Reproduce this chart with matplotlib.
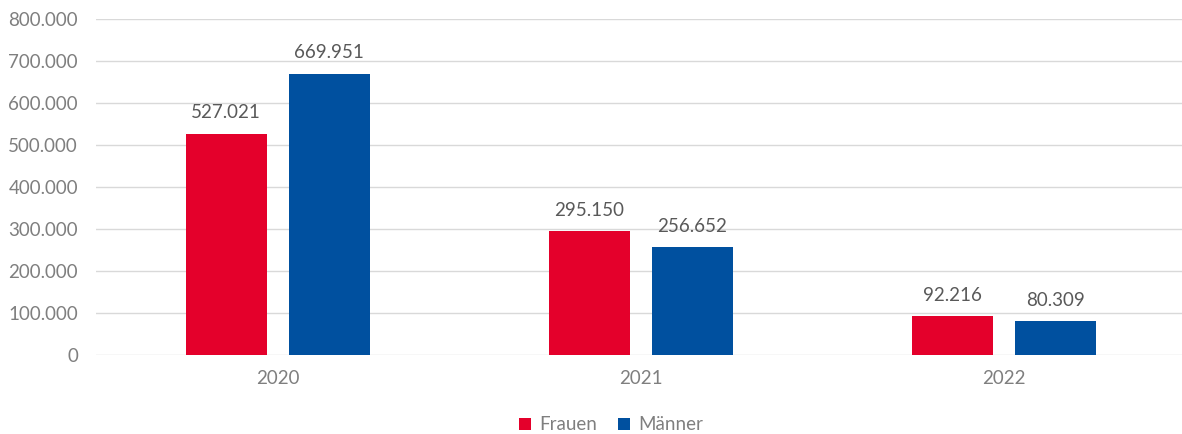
import matplotlib.pyplot as plt
from matplotlib.ticker import FuncFormatter
import numpy as np

years = ['2020', '2021', '2022']
frauen = [527021, 295150, 92216]
maenner = [669951, 256652, 80309]
series_names = ['Frauen', 'Männer']

plt.rcParams['font.family'] = ['Lato', 'DejaVu Sans']

fig = plt.figure(figsize=(11.82, 4.34), dpi=100)
ax = fig.add_axes([96/1182, 1-355/434, 1-96/1182, (355-19)/434])

x = np.arange(len(years))
w = 0.223
off = 0.142
red = '#E4002B'
blue = '#00509F'

b1 = ax.bar(x - off, frauen, w, color=red, label=series_names[0], zorder=3)
b2 = ax.bar(x + off, maenner, w, color=blue, label=series_names[1], zorder=3)

def de_fmt(v):
    return f'{int(round(v)):,}'.replace(',', '.')

# Datenbeschriftung ueber den Balken
for bars, vals in ((b1, frauen), (b2, maenner)):
    for r, v in zip(bars, vals):
        ax.annotate(de_fmt(v), (r.get_x() + r.get_width()/2, v), xytext=(0, 9),
                    textcoords='offset points', ha='center', va='bottom',
                    fontsize=13.5, color='#595959')

ax.set_ylim(0, 800000)
ax.set_xlim(-0.5, 2.49)
ax.set_yticks(np.arange(0, 800001, 100000))
ax.yaxis.set_major_formatter(FuncFormatter(lambda v, p: de_fmt(v)))
ax.set_xticks(x)
ax.set_xticklabels(years)
ax.grid(axis='y', color='#d9d9d9', linewidth=1, zorder=0)
for s in ax.spines.values():
    s.set_visible(False)
ax.tick_params(axis='both', length=0, labelsize=13.5, colors='#7f7f7f')
ax.tick_params(axis='y', pad=13)
ax.tick_params(axis='x', pad=11)

leg = fig.legend(loc='center', bbox_to_anchor=(0.517, 9/434), ncol=2, frameon=False,
                 fontsize=13.5, handlelength=0.65, handleheight=0.65, handletextpad=0.45,
                 columnspacing=1.1)
for t in leg.get_texts():
    t.set_color('#7f7f7f')

fig.savefig('out.png', dpi=100)
